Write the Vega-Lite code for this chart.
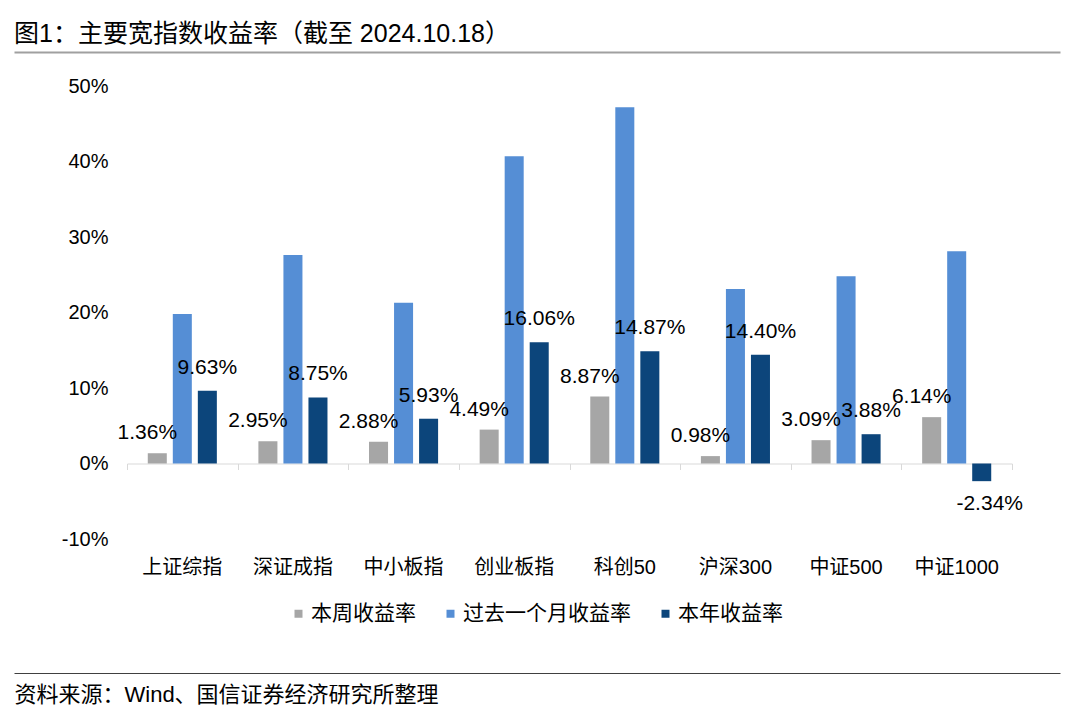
{
  "$schema": "https://vega.github.io/schema/vega-lite/v6.json",
  "width": 1046,
  "height": 621,
  "autosize": {"type": "none"},
  "padding": {"left": 14, "top": 52, "right": 20, "bottom": 55},
  "background": "white",
  "config": {
    "view": {"stroke": null},
    "font": "Liberation Sans, Noto Sans CJK SC",
    "locale": {"number": {"decimal": ".", "thousands": ",", "grouping": [3], "currency": ["", ""], "minus": "-"}}
  },
  "title": {
    "text": "图1：主要宽指数收益率（截至 2024.10.18）",
    "anchor": "start",
    "frame": "group",
    "offset": 5,
    "fontSize": 25,
    "fontWeight": "normal",
    "font": "Liberation Sans, Noto Sans CJK SC",
    "color": "#000000"
  },
  "layer": [
    {
      "data": {
        "values": [
          {"index": "上证综指", "series": "本周收益率", "value": 0.0136},
          {"index": "上证综指", "series": "过去一个月收益率", "value": 0.198},
          {"index": "上证综指", "series": "本年收益率", "value": 0.0963},
          {"index": "深证成指", "series": "本周收益率", "value": 0.0295},
          {"index": "深证成指", "series": "过去一个月收益率", "value": 0.276},
          {"index": "深证成指", "series": "本年收益率", "value": 0.0875},
          {"index": "中小板指", "series": "本周收益率", "value": 0.0288},
          {"index": "中小板指", "series": "过去一个月收益率", "value": 0.213},
          {"index": "中小板指", "series": "本年收益率", "value": 0.0593},
          {"index": "创业板指", "series": "本周收益率", "value": 0.0449},
          {"index": "创业板指", "series": "过去一个月收益率", "value": 0.407},
          {"index": "创业板指", "series": "本年收益率", "value": 0.1606},
          {"index": "科创50", "series": "本周收益率", "value": 0.0887},
          {"index": "科创50", "series": "过去一个月收益率", "value": 0.472},
          {"index": "科创50", "series": "本年收益率", "value": 0.1487},
          {"index": "沪深300", "series": "本周收益率", "value": 0.0098},
          {"index": "沪深300", "series": "过去一个月收益率", "value": 0.231},
          {"index": "沪深300", "series": "本年收益率", "value": 0.144},
          {"index": "中证500", "series": "本周收益率", "value": 0.0309},
          {"index": "中证500", "series": "过去一个月收益率", "value": 0.248},
          {"index": "中证500", "series": "本年收益率", "value": 0.0388},
          {"index": "中证1000", "series": "本周收益率", "value": 0.0614},
          {"index": "中证1000", "series": "过去一个月收益率", "value": 0.281},
          {"index": "中证1000", "series": "本年收益率", "value": -0.0234}
        ]
      },
      "layer": [
        {
          "mark": {"type": "bar"},
          "encoding": {
            "x": {
              "field": "index", "type": "nominal", "sort": null,
              "scale": {"range": [113, 998], "paddingInner": 0, "paddingOuter": 0},
              "axis": {
                "orient": "bottom", "offset": -134, "domain": false, "ticks": false,
                "labelAngle": 0, "labelPadding": 18, "labelFontSize": 20,
                "labelFont": "Liberation Sans, Noto Sans CJK SC", "labelColor": "#000000",
                "title": null, "grid": false
              }
            },
            "xOffset": {
              "field": "series", "type": "nominal",
              "scale": {"domain": ["本周收益率", "过去一个月收益率", "本年收益率"], "paddingInner": 0.24, "paddingOuter": 0.83}
            },
            "y": {
              "field": "value", "type": "quantitative",
              "scale": {"domain": [-0.1, 0.5], "range": [487, 34], "nice": false, "zero": false},
              "axis": {
                "orient": "left", "offset": -113, "domain": false, "ticks": false, "grid": false,
                "labelPadding": 19, "values": [-0.1, 0, 0.1, 0.2, 0.3, 0.4, 0.5], "format": ".0%",
                "labelFontSize": 20, "labelFont": "Liberation Sans", "labelColor": "#000000", "title": null
              }
            },
            "color": {
              "field": "series", "type": "nominal",
              "scale": {"domain": ["本周收益率", "过去一个月收益率", "本年收益率"], "range": ["#A6A6A6", "#558ED5", "#0C457B"]},
              "legend": {
                "orient": "none", "legendX": 274, "legendY": 551, "direction": "horizontal",
                "title": null, "symbolType": "square", "symbolSize": 64, "symbolStrokeWidth": 0,
                "labelFontSize": 21, "labelFont": "Noto Sans CJK SC", "labelColor": "#000000",
                "labelOffset": 2, "columnPadding": 24, "padding": 0, "labelLimit": 400
              }
            }
          }
        },
        {
          "transform": [{"filter": "datum.series === '本年收益率' && datum.value >= 0"}],
          "mark": {"type": "text", "baseline": "alphabetic", "dy": -17, "fontSize": 21, "font": "Liberation Sans", "color": "#000000"},
          "encoding": {
            "x": {
              "field": "index", "type": "nominal", "sort": null,
              "axis": {
                "orient": "bottom", "offset": -209.5, "domain": true, "domainColor": "#D9D9D9", "domainWidth": 1,
                "ticks": true, "tickBand": "extent", "tickSize": 6, "tickColor": "#D9D9D9", "tickWidth": 1,
                "labels": false, "title": null, "grid": false
              }
            },
            "xOffset": {"field": "series", "type": "nominal"},
            "y": {"field": "value", "type": "quantitative"},
            "text": {"field": "value", "type": "quantitative", "format": ".2%"}
          }
        },
        {
          "transform": [{"filter": "datum.series === '本周收益率' && datum.value >= 0"}],
          "mark": {"type": "text", "baseline": "alphabetic", "dy": -14, "dx": -10, "fontSize": 21, "font": "Liberation Sans", "color": "#000000"},
          "encoding": {
            "x": {"field": "index", "type": "nominal", "sort": null, "axis": null},
            "xOffset": {"field": "series", "type": "nominal"},
            "y": {"field": "value", "type": "quantitative"},
            "text": {"field": "value", "type": "quantitative", "format": ".2%"}
          }
        },
        {
          "transform": [{"filter": "datum.series !== '过去一个月收益率' && datum.value < 0"}],
          "mark": {"type": "text", "baseline": "top", "dy": 12, "dx": 8, "fontSize": 21, "font": "Liberation Sans", "color": "#000000"},
          "encoding": {
            "x": {"field": "index", "type": "nominal", "sort": null, "axis": null},
            "xOffset": {"field": "series", "type": "nominal"},
            "y": {"field": "value", "type": "quantitative"},
            "text": {"field": "value", "type": "quantitative", "format": ".2%"}
          }
        }
      ],
      "resolve": {"axis": {"x": "independent"}}
    },
    {
      "data": {"values": [{"v": 0}, {"v": 1}]},
      "mark": {"type": "point", "opacity": 0},
      "encoding": {
        "x": {
          "field": "v", "type": "quantitative", "scale": {"domain": [0, 1], "nice": false, "zero": false},
          "axis": {"orient": "top", "domain": true, "domainColor": "#A0A0A0", "domainWidth": 2, "ticks": false, "labels": false, "grid": false, "title": null}
        }
      }
    },
    {
      "data": {"values": [{"v": 0}, {"v": 1}]},
      "mark": {"type": "point", "opacity": 0},
      "encoding": {
        "x": {
          "field": "v", "type": "quantitative", "scale": {"domain": [0, 1], "nice": false, "zero": false},
          "axis": {
            "orient": "bottom", "domain": true, "domainColor": "#404040", "domainWidth": 1, "ticks": false, "labels": false, "grid": false,
            "title": "资料来源：Wind、国信证券经济研究所整理", "titleAnchor": "start", "titleAlign": "left", "titleBaseline": "top",
            "titlePadding": 11, "titleFontSize": 22, "titleFontWeight": "normal", "titleFont": "Liberation Sans, Noto Sans CJK SC", "titleColor": "#000000"
          }
        }
      }
    }
  ],
  "resolve": {"scale": {"x": "independent"}}
}
